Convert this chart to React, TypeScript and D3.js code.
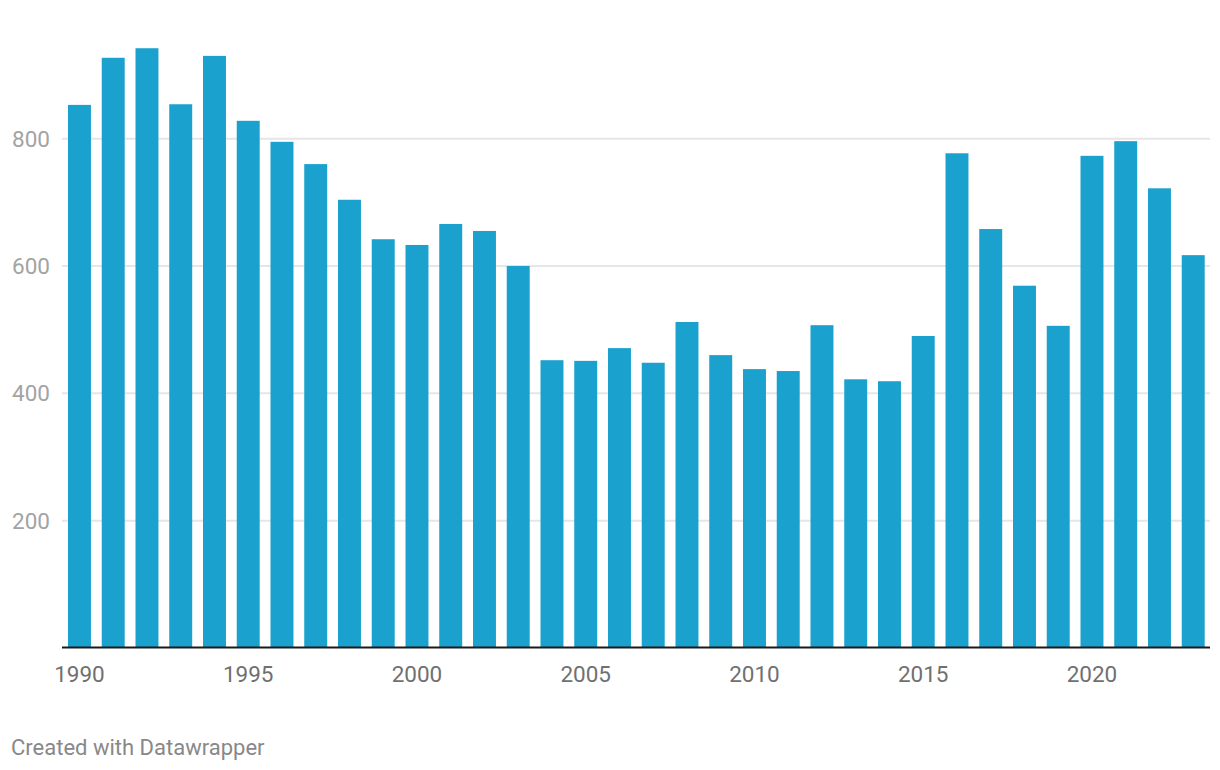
import React from "react";
import * as d3 from "d3";

const years: number[] = Array.from({ length: 34 }, (_, i) => 1990 + i);
const values: number[] = [
  853, 927, 942, 854, 930, 828, 795, 760, 704, 642,
  633, 666, 655, 600, 452, 451, 471, 448, 512, 460,
  438, 435, 507, 422, 419, 490, 777, 658, 569, 506,
  773, 796, 722, 617,
];
const yTicks: number[] = [200, 400, 600, 800];
const xTickYears: number[] = [1990, 1995, 2000, 2005, 2010, 2015, 2020];

const W = 1220;
const H = 770;

export default function App() {
  const x = d3
    .scaleBand<number>()
    .domain(years)
    .range([62.6, 1210.1])
    .paddingInner(0.32)
    .paddingOuter(0.16);
  const y = d3.scaleLinear().domain([0, 1000]).range([648, 11.3]);
  const font = "Roboto, 'Noto Sans', sans-serif";

  return (
    <svg
      width={W}
      height={H}
      style={{ position: "absolute", left: 0, top: 0, background: "#fff" }}
      fontFamily={font}
    >
      {yTicks.map((t) => (
        <g key={t}>
          <line x1={62} x2={1210} y1={y(t)} y2={y(t)} stroke="#e6e6e6" strokeWidth={2} />
          <text
            x={50}
            y={y(t)}
            dy="0.36em"
            textAnchor="end"
            fontSize={22.5}
            fill="#a3a3a3"
          >
            {t}
          </text>
        </g>
      ))}
      {years.map((yr, i) => (
        <rect
          key={yr}
          x={x(yr)}
          y={y(values[i])}
          width={x.bandwidth()}
          height={y(0) - y(values[i])}
          fill="#1aa1cd"
        />
      ))}
      <line x1={62} x2={1210} y1={647.5} y2={647.5} stroke="#1a1a1a" strokeWidth={2} />
      {xTickYears.map((yr) => (
        <text
          key={yr}
          x={(x(yr) as number) + x.bandwidth() / 2}
          y={682}
          textAnchor="middle"
          fontSize={22.5}
          fill="#707070"
        >
          {yr}
        </text>
      ))}
      <text x={11} y={755} fontSize={22} fill="#888888">
        Created with Datawrapper
      </text>
    </svg>
  );
}
